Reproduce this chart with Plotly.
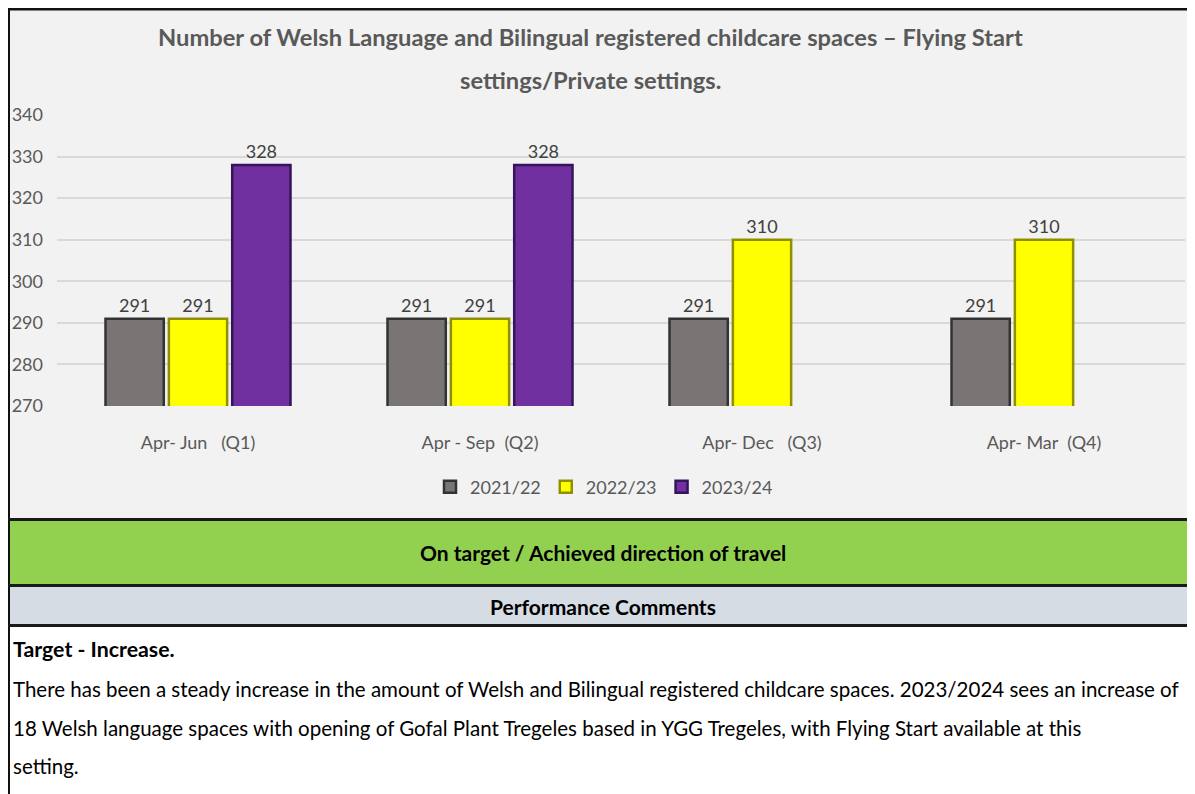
import plotly.graph_objects as go

categories = ["Apr- Jun   (Q1)", "Apr - Sep  (Q2)", "Apr- Dec   (Q3)", "Apr- Mar  (Q4)"]
series_names = ["2021/22", "2022/23", "2023/24"]
values_2021 = [291, 291, 291, 291]
values_2022 = [291, 291, 310, 310]
values_2023 = [328, 328, None, None]
y_ticks = [270, 280, 290, 300, 310, 320, 330, 340]

title_line1 = "Number of Welsh Language and Bilingual registered childcare spaces \u2013 Flying Start"
title_line2 = "settings/Private settings."
status_text = "On target / Achieved direction of travel"
comments_header = "Performance Comments"
comment_title = "Target - Increase."
comment_lines = [
    "There has been a steady increase in the amount of Welsh and Bilingual registered childcare spaces. 2023/2024 sees an increase of",
    "18 Welsh language spaces with opening of Gofal Plant Tregeles based in YGG Tregeles, with Flying Start available at this",
    "setting.",
]

W, H = 1195, 794
OFF = 8  # page body margin in the viewer
FONT = "Lato, sans-serif"

fills = ["#787574", "#FFFF00", "#7030A0"]
edges = ["#333333", "#8f8f00", "#34155a"]
series = [values_2021, values_2022, values_2023]

fig = go.Figure()
for name, vals, fc, ec in zip(series_names, series, fills, edges):
    fig.add_trace(go.Bar(
        name=name, x=categories, y=vals,
        marker=dict(color=fc, line=dict(color=ec, width=2.5)),
        text=[("" if v is None else str(v)) for v in vals],
        textposition="outside", cliponaxis=False,
        textfont=dict(family=FONT, size=18, color="#404040"),
    ))


def py(p):
    return 1 - (p - OFF) / H


def px(p):
    return (p - OFF) / W


shapes = []
def rect(x0, y0, x1, y1, color):
    shapes.append(dict(type="rect", xref="paper", yref="paper",
                       x0=px(x0), x1=px(x1), y0=py(y1), y1=py(y0),
                       fillcolor=color, line=dict(width=0), layer="below"))

rect(OFF, OFF, W + OFF, H + OFF, "#FFFFFF")
rect(OFF, OFF, W + OFF, 519, "#F2F2F2")
rect(OFF, 521, W + OFF, 584, "#92D050")
rect(OFF, 587, W + OFF, 624, "#D6DCE4")
# borders
rect(OFF, OFF, W + OFF, OFF + 2.5, "#111111")
rect(OFF, OFF, OFF + 2, H + OFF, "#111111")
rect(OFF, 518, W + OFF, 521, "#1a1a1a")
rect(OFF, 584, W + OFF, 587, "#1a1a1a")
rect(OFF, 624, W + OFF, 627, "#1a1a1a")

annotations = [
    dict(text="<b>" + title_line1 + "</b>", x=px(590), y=py(37), xref="paper", yref="paper",
         showarrow=False, font=dict(family=FONT, size=23.7, color="#595959"), xanchor="center", yanchor="middle"),
    dict(text="<b>" + title_line2 + "</b>", x=px(590), y=py(80), xref="paper", yref="paper",
         showarrow=False, font=dict(family=FONT, size=23.7, color="#595959"), xanchor="center", yanchor="middle"),
    dict(text="<b>" + status_text + "</b>", x=px(603), y=py(552), xref="paper", yref="paper",
         showarrow=False, font=dict(family=FONT, size=21, color="#000000"), xanchor="center", yanchor="middle"),
    dict(text="<b>" + comments_header + "</b>", x=px(603), y=py(606), xref="paper", yref="paper",
         showarrow=False, font=dict(family=FONT, size=21, color="#000000"), xanchor="center", yanchor="middle"),
    dict(text="<b>" + comment_title + "</b>", x=px(11), y=py(649), xref="paper", yref="paper",
         showarrow=False, font=dict(family=FONT, size=21.3, color="#000000"), xanchor="left", yanchor="middle"),
]
for i, line in enumerate(comment_lines):
    annotations.append(dict(text=line, x=px(11), y=py(689 + 38.5 * i), xref="paper", yref="paper",
                            showarrow=False, font=dict(family=FONT, size=20.5, color="#000000"),
                            xanchor="left", yanchor="middle"))

fig.update_layout(
    width=W, height=H,
    margin=dict(l=0, r=0, t=0, b=0, autoexpand=False),
    paper_bgcolor="#FFFFFF", plot_bgcolor="rgba(0,0,0,0)",
    barmode="group", bargap=0.326, bargroupgap=0.08,
    font=dict(family=FONT, color="#595959"),
    showlegend=True,
    legend=dict(orientation="h", x=px(604), y=py(487), xanchor="center", yanchor="middle",
                font=dict(family=FONT, size=18, color="#595959"), bgcolor="rgba(0,0,0,0)",
                itemwidth=30, traceorder="normal"),
    xaxis=dict(domain=[px(57), px(1185)], showgrid=False, showline=False, ticks="",
               tickfont=dict(family=FONT, size=18, color="#595959"), ticklabelstandoff=24,
               automargin=False, fixedrange=True),
    yaxis=dict(domain=[py(406), py(115)], range=[270, 340], tickvals=y_ticks,
               showgrid=True, gridcolor="#D9D9D9", gridwidth=1.5, zeroline=False,
               ticks="", tickfont=dict(family=FONT, size=18, color="#595959"),
               ticklabelstandoff=13, automargin=False, fixedrange=True),
    shapes=shapes,
    annotations=annotations,
)

fig.write_html("out.html")
